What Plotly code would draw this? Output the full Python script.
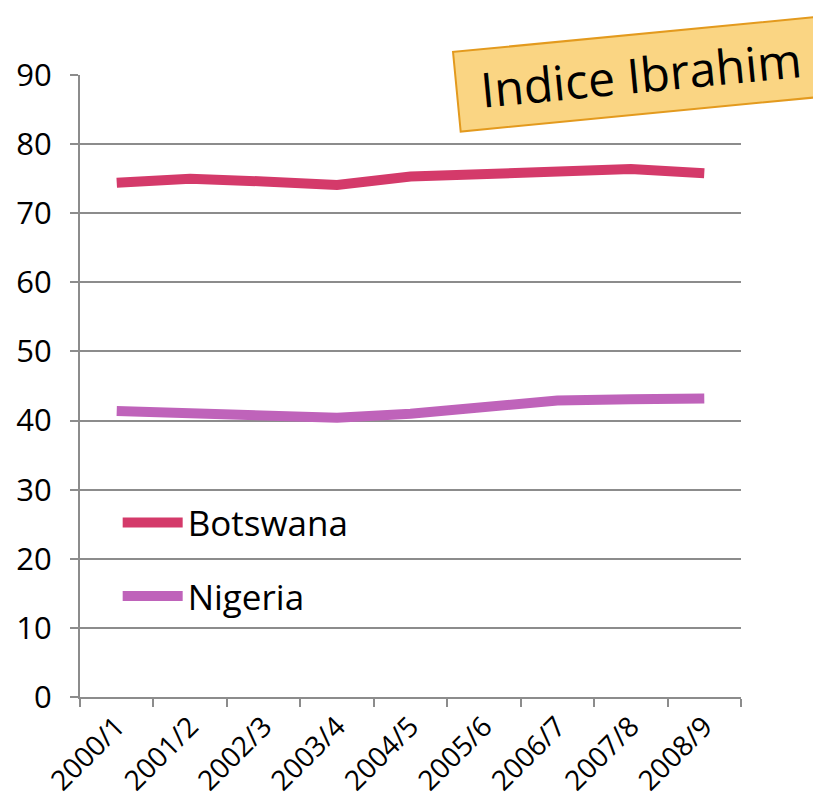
import plotly.graph_objects as go

years = ["2000/1", "2001/2", "2002/3", "2003/4", "2004/5", "2005/6", "2006/7", "2007/8", "2008/9"]
botswana = [74.4, 75.0, 74.6, 74.1, 75.3, 75.6, 75.9, 76.4, 75.8]
nigeria = [41.4, 41.0, 40.5, 40.4, 41.0, 41.9, 42.9, 43.1, 43.2]
y_ticks = [0, 10, 20, 30, 40, 50, 60, 70, 80, 90]

FONT = "Open Sans"
GRID = "#8c8c8c"

fig = go.Figure()
fig.add_trace(go.Scatter(x=years, y=botswana, mode="lines", name="Botswana",
                         line=dict(color="#D43A6A", width=10), legend="legend"))
fig.add_trace(go.Scatter(x=years, y=nigeria, mode="lines", name="Nigeria",
                         line=dict(color="#BF63BA", width=10), legend="legend2"))

legend_common = dict(font=dict(family=FONT, size=35, color="black"),
                     bgcolor="rgba(0,0,0,0)", borderwidth=0, itemwidth=60,
                     xanchor="left", yanchor="middle", x=0.057)

fig.update_layout(
    width=813, height=802,
    margin=dict(l=72, r=80, t=67, b=113, autoexpand=False),
    paper_bgcolor="white", plot_bgcolor="white",
    font=dict(family=FONT, color="black"),
    showlegend=True,
    legend=dict(y=0.28, **legend_common),
    legend2=dict(y=0.162, **legend_common),
    xaxis=dict(type="category", tickson="boundaries", showgrid=False,
               showline=True, linecolor=GRID, linewidth=2,
               ticks="outside", ticklen=8, tickcolor=GRID, tickwidth=2,
               tickangle=-45, tickfont=dict(family=FONT, size=28, color="black"),
               range=[-0.5, 8.5], automargin=False),
    yaxis=dict(range=[0, 90], tickvals=y_ticks, showgrid=True, gridcolor=GRID, gridwidth=2,
               showline=True, linecolor=GRID, linewidth=2,
               ticks="outside", ticklen=8, tickcolor=GRID, tickwidth=2,
               ticklabelstandoff=12,
               tickfont=dict(family=FONT, size=31, color="black"), zeroline=False,
               automargin=False),
)

fig.add_annotation(
    text="Indice Ibrahim", xref="paper", yref="paper",
    x=(633 - 72) / 661, y=(689 - 66) / 622, xanchor="center", yanchor="middle",
    showarrow=False, textangle=-5.5,
    font=dict(family=FONT, size=48, color="black"),
    bgcolor="#FAD583", bordercolor="#E39A1E", borderwidth=2, borderpad=8,
    width=352, height=62,
)

fig.write_html("out.html")
